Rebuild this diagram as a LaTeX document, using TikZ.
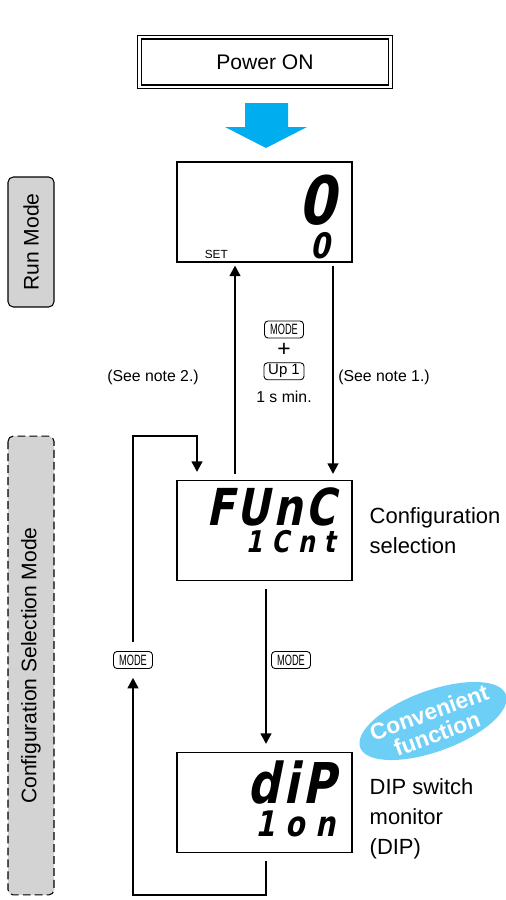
\documentclass[tikz,border=0pt]{standalone}
\usepackage{fontspec}
\setmainfont{Liberation Sans}
\newfontfamily\lcdfont{DejaVu Sans}[UprightFont={* Bold}, FakeSlant=0.2, FakeStretch=0.8, LetterSpace=6]
\newfontfamily\lcdwide{DejaVu Sans}[UprightFont={* Bold}, FakeSlant=0.2, FakeStretch=0.8, LetterSpace=30]
\newfontfamily\keyfont{Liberation Sans}[FakeStretch=0.62]
\usepackage{tikz}
\usetikzlibrary{arrows.meta, positioning, shapes.geometric}
\definecolor{pwrblue}{HTML}{00AEEF}
\definecolor{tagblue}{HTML}{6DCFF6}
\definecolor{modegray}{HTML}{D3D3D3}

\begin{document}
\begin{tikzpicture}[x=0.02cm, y=-0.02cm, >={Triangle[length=6pt, width=6pt]},
    lcd/.style={draw, line width=0.6pt, minimum width=3.5cm, minimum height=2cm, inner sep=0pt},
    flow/.style={->, line width=1.3pt},
    key/.style={draw, rounded corners=2pt, line width=0.5pt, inner sep=1pt, minimum width=0.78cm, minimum height=0.34cm, font=\keyfont\fontsize{8.5}{8.5}\selectfont},
    modetag/.style={draw, fill=modegray, rounded corners=3pt, line width=0.6pt, rotate=90, minimum height=0.92cm, font=\fontsize{12}{12}\selectfont},
    note/.style={font=\fontsize{9}{9}\selectfont}]
    \useasboundingbox (0,0) rectangle (506,900);

    % Power on
    \node[draw, double, double distance=1.4pt, line width=0.7pt, minimum width=5.02cm, minimum height=0.99cm, font=\fontsize{12}{14}\selectfont] (power) at (265,62) {Power ON};
    \fill[pwrblue] (245,103) -- (288,103) -- (288,127) -- (307,127) -- (266,148) -- (225,127) -- (245,127) -- cycle;

    % Run mode display
    \node[lcd] (run) at (264.5,212) {};
    \node[anchor=base east, inner sep=0pt, font=\lcdfont\fontsize{38}{38}\selectfont] (runpv) at ([xshift=-0.34cm, yshift=-1.26cm]run.north east) {0};
    \node[anchor=base east, inner sep=0pt, font=\lcdfont\fontsize{20}{20}\selectfont] (runsv) at ([xshift=-0.44cm, yshift=0.08cm]run.south east) {0};
    \node[anchor=base west, inner sep=0pt, font=\fontsize{6.7}{7}\selectfont] (runset) at ([xshift=0.56cm, yshift=0.08cm]run.south west) {SET};

    % Configuration selection display
    \node[lcd] (cfg) at (264.5,530.5) {};
    \node[anchor=base east, inner sep=0pt, font=\lcdfont\fontsize{29}{29}\selectfont] (cfgtop) at ([xshift=-0.34cm, yshift=-0.92cm]cfg.north east) {FUnC};
    \node[anchor=base east, inner sep=0pt, font=\lcdwide\fontsize{17}{17}\selectfont] (cfgbot) at ([xshift=-0.34cm, yshift=-1.46cm]cfg.north east) {1Cnt};
    \node[right=0.22cm of cfg, align=left, font=\fontsize{12.5}{17}\selectfont] (cfglbl) {Configuration\\selection};

    % DIP switch monitor display
    \node[lcd] (dip) at (264.5,802.5) {};
    \node[anchor=base east, inner sep=0pt, font=\lcdfont\fontsize{32}{32}\selectfont] (diptop) at ([xshift=-0.34cm, yshift=-1.04cm]dip.north east) {diP};
    \node[anchor=base east, inner sep=0pt, font=\lcdwide\fontsize{20}{20}\selectfont] (dipbot) at ([xshift=-0.34cm, yshift=-1.70cm]dip.north east) {1on};
    \node[right=0.22cm of dip, yshift=-0.32cm, align=left, font=\fontsize{12.5}{17}\selectfont] (diplbl) {DIP switch\\monitor\\(DIP)};
    \node[ellipse, fill=tagblue, minimum width=3.1cm, minimum height=1.22cm, rotate=20] (tag) at (433,721) {};
    \node[rotate=20, align=center, inner sep=0pt, text=white, font=\bfseries\fontsize{13}{13}\selectfont] (tagtxt) at ([yshift=-0.04cm]tag.center) {Convenient\\function};

    % Run <-> configuration
    \draw[flow] ([xshift=-0.59cm, yshift=0.12cm]cfg.north) -- ([xshift=-0.59cm, yshift=-0.06cm]run.south);
    \draw[flow] ([xshift=1.37cm, yshift=-0.06cm]run.south) -- ([xshift=1.37cm, yshift=0.12cm]cfg.north);
    \node[key] (mode1) at (284,329.5) {MODE};
    \node[below=0.1cm of mode1, inner sep=0pt, font=\fontsize{13}{13}\selectfont] (plus) {+};
    \node[key, minimum width=0.8cm, font=\fontsize{8.5}{9}\selectfont, below=0.1cm of plus] (up1) {Up 1};
    \node[note, below=0.1cm of up1] (hold) {1 s min.};
    \node[note] (note2) at (153,377) {(See note 2.)};
    \node[note] (note1) at (384,377) {(See note 1.)};

    % Configuration <-> DIP loop
    \draw[flow] ([xshift=0.03cm, yshift=-0.16cm]cfg.south) -- ([xshift=0.03cm, yshift=0.16cm]dip.north);
    \node[key] (mode2) at (291,660) {MODE};
    \node[key] (mode3) at (133,660) {MODE};
    \coordinate (loopbot) at (133,895);
    \coordinate (looptop) at (197,436);
    \path ([xshift=0.03cm]dip.south) ++(0,8) coordinate (dipout);
    \path (cfg.north -| looptop) ++(0,-8) coordinate (cfgin);
    \draw[flow, shorten >=5pt] (dipout) |- (loopbot) -- (mode3);
    \draw[flow, shorten <=5pt] (mode3) |- (looptop) -- (cfgin);

    % Mode tags
    \node[modetag, minimum width=2.6cm] (runtag) at (31,242) {Run Mode};
    \node[modetag, dash pattern=on 4.5pt off 2.3pt, minimum width=9.18cm] (cfgtag) at (31,665.5) {Configuration Selection Mode};
\end{tikzpicture}
\end{document}
